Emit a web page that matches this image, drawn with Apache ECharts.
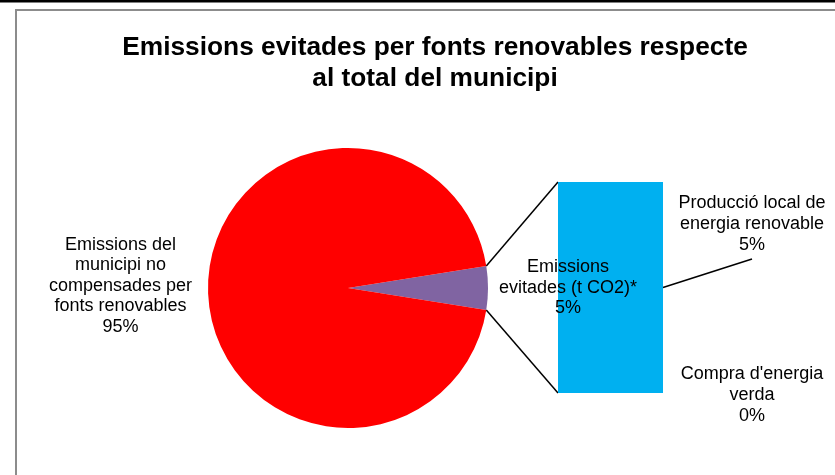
<!DOCTYPE html>
<html>
<head>
<meta charset="UTF-8">
<title>Emissions evitades per fonts renovables</title>
<style>
  html, body { margin: 0; padding: 0; background: #fff; }
  #chart { width: 835px; height: 475px; }
</style>
<script src="https://cdn.jsdelivr.net/npm/echarts@6/dist/echarts.min.js"></script>
</head>
<body>
<div id="chart"></div>
<script>
// pie: share of the municipal emissions (%)
var pieNames = ['Emissions\nevitades (t CO2)*', 'Emissions del\nmunicipi no\ncompensades per\nfonts renovables'];
var pieValues = [5, 95];
var pieColors = ['#8064A2', '#FF0000'];

// bar: split of the avoided emissions (% of total)
var barNames = ['Producció local de\nenergia renovable', "Compra d'energia\nverda"];
var barValues = [5, 0];

var PIE = { cx: 348, cy: 288, r: 140 };
var FONT = 'Liberation Sans, Arial, sans-serif';
var labelPos = [[752, 224], [752, 395]];

var pieTotal = pieValues.reduce(function (a, b) { return a + b; }, 0);
var barTotal = barValues.reduce(function (a, b) { return a + b; }, 0);
var halfDeg = pieValues[0] / pieTotal * 180;

var chart = echarts.init(document.getElementById('chart'));

var barSeries = barValues.map(function (v, i) {
    return {
        type: 'bar',
        name: barNames[i],
        stack: 'evitades',
        barWidth: '100%',
        data: [v],
        itemStyle: { color: '#00B0F0' },
        label: {
            show: true,
            formatter: barNames[i] + '\n' + v + '%',
            fontFamily: FONT, fontSize: 18, lineHeight: 21, color: '#000'
        },
        labelLayout: { x: labelPos[i][0], y: labelPos[i][1], align: 'center', verticalAlign: 'middle' },
        z: 1
    };
});

var option = {
    backgroundColor: '#fff',
    animation: false,
    title: {
        text: 'Emissions evitades per fonts renovables respecte\nal total del municipi',
        left: 435,
        top: 32,
        textAlign: 'center',
        padding: 0,
        textStyle: { fontFamily: FONT, fontSize: 26.3, fontWeight: 'bold', lineHeight: 31, color: '#000' }
    },
    grid: { left: 558, top: 182, width: 105, height: 211 },
    xAxis: { type: 'category', data: ['evitades'], show: false },
    yAxis: { type: 'value', min: 0, max: barTotal, show: false },
    series: barSeries.concat([{
        type: 'pie',
        center: [PIE.cx, PIE.cy],
        radius: PIE.r,
        startAngle: halfDeg,
        clockwise: true,
        avoidLabelOverlap: false,
        itemStyle: { borderWidth: 0 },
        emphasis: { disabled: true },
        data: pieValues.map(function (v, i) {
            return { name: pieNames[i], value: v, itemStyle: { color: pieColors[i] } };
        }),
        label: {
            show: true,
            position: 'outside',
            formatter: function (p) { return p.name + '\n' + Math.round(p.percent) + '%'; },
            fontFamily: FONT, fontSize: 18, lineHeight: 20.5, color: '#000'
        },
        labelLine: { show: false },
        labelLayout: function (p) {
            var w = p.labelRect.width;
            var x = p.dataIndex === 0 ? PIE.cx + PIE.r + 11 + w / 2 : PIE.cx - PIE.r - 16 - w / 2;
            var y = p.dataIndex === 0 ? PIE.cy : PIE.cy - 2;
            return { x: x, y: y, align: 'center', verticalAlign: 'middle' };
        },
        z: 3
    }])
};
chart.setOption(option);

// connector lines: pie slice edges -> bar corners, bar -> label
var rect = chart.getModel().getComponent('grid').coordinateSystem.getRect();
var yTop = chart.convertToPixel({ yAxisIndex: 0 }, barTotal);
var yBot = chart.convertToPixel({ yAxisIndex: 0 }, 0);
var yMid = chart.convertToPixel({ yAxisIndex: 0 }, barValues[0] / 2);
var a = halfDeg * Math.PI / 180;
var px = PIE.cx + PIE.r * Math.cos(a);
var line = { stroke: '#000', lineWidth: 1.5 };

chart.setOption({
    graphic: [
        { type: 'rect', shape: { x: 0, y: 0, width: 835, height: 2.5 }, style: { fill: '#000' } },
        { type: 'polyline', shape: { points: [[16, 475], [16, 10], [835, 10]] }, style: { stroke: '#8c8c8c', lineWidth: 2, fill: null } },
        { type: 'line', shape: { x1: px, y1: PIE.cy - PIE.r * Math.sin(a), x2: rect.x, y2: yTop }, style: line },
        { type: 'line', shape: { x1: px, y1: PIE.cy + PIE.r * Math.sin(a), x2: rect.x, y2: yBot }, style: line },
        { type: 'line', shape: { x1: rect.x + rect.width, y1: yMid, x2: labelPos[0][0], y2: labelPos[0][1] + 35 }, style: line }
    ]
});
</script>
</body>
</html>
